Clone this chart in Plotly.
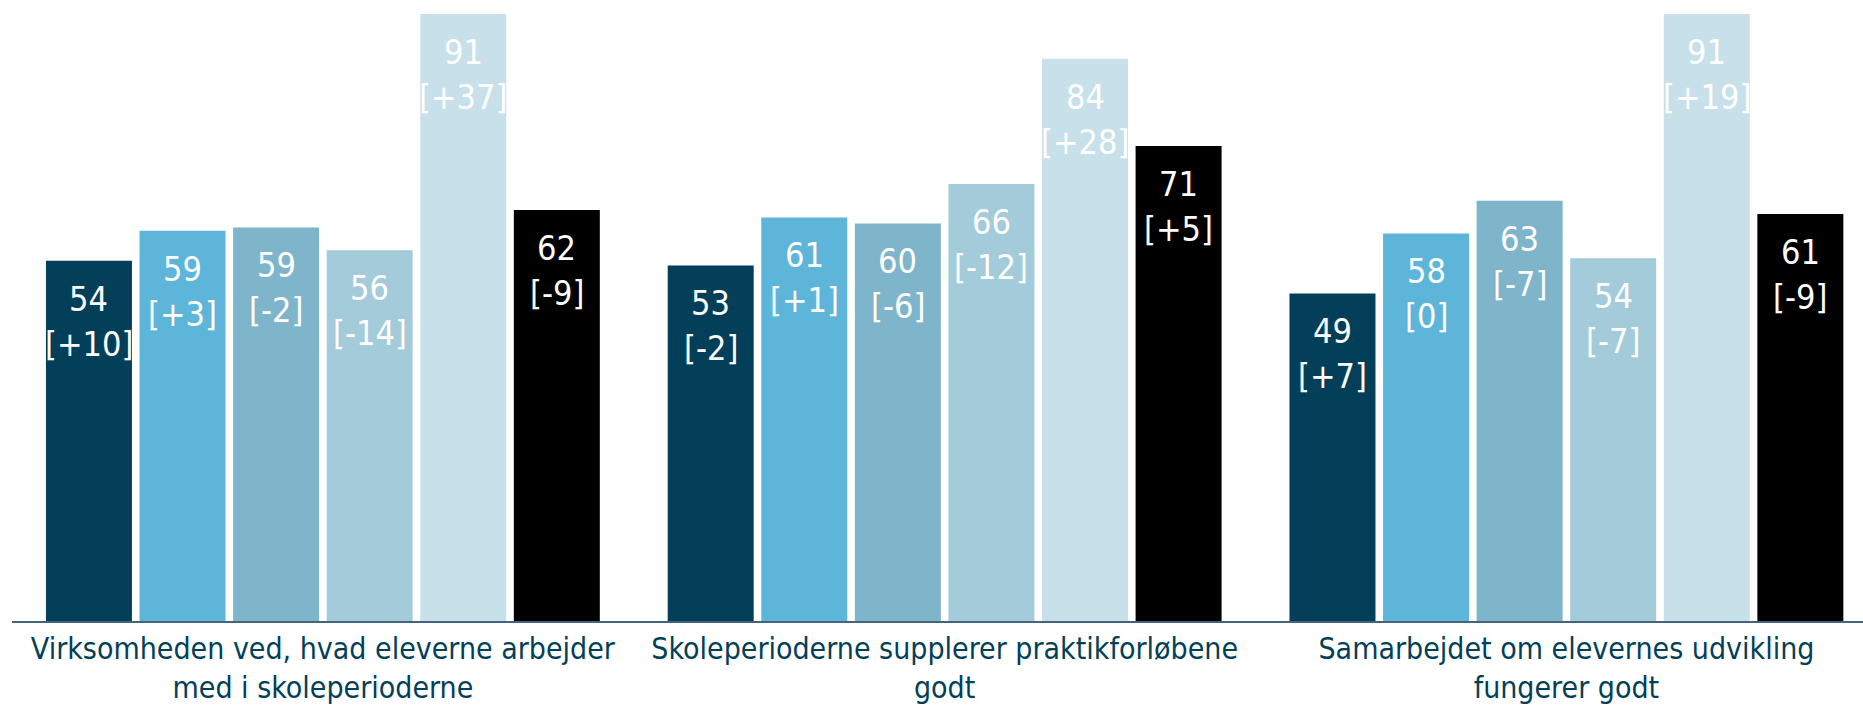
import plotly.graph_objects as go

categories = [
    "Virksomheden ved, hvad eleverne arbejder<br>med i skoleperioderne",
    "Skoleperioderne supplerer praktikforløbene<br>godt",
    "Samarbejdet om elevernes udvikling<br>fungerer godt",
]
series_names = ["Gruppe 1", "Gruppe 2", "Gruppe 3", "Gruppe 4", "Gruppe 5", "Gruppe 6"]
colors = ["#033f59", "#5eb5da", "#7fb5ca", "#a3cbda", "#c8e0ea", "#000000"]

# bar heights (per series, across the three categories)
values = [
    [54.0, 53.3, 49.1],
    [58.5, 60.5, 58.1],
    [59.0, 59.6, 63.0],
    [55.6, 65.5, 54.4],
    [91.0, 84.3, 91.0],
    [61.6, 71.2, 61.0],
]
value_labels = [
    ["54", "53", "49"],
    ["59", "61", "58"],
    ["59", "60", "63"],
    ["56", "66", "54"],
    ["91", "84", "91"],
    ["62", "71", "61"],
]
change_labels = [
    ["[+10]", "[-2]", "[+7]"],
    ["[+3]", "[+1]", "[0]"],
    ["[-2]", "[-6]", "[-7]"],
    ["[-14]", "[-12]", "[-7]"],
    ["[+37]", "[+28]", "[+19]"],
    ["[-9]", "[+5]", "[-9]"],
]

FONT = "DejaVu Sans Condensed, DejaVu Sans, sans-serif"
BARGAP = 0.097
BARGROUPGAP = 0.081
VAL_SIZE = 34
LAB_SIZE = 30

fig = go.Figure()
x_idx = list(range(len(categories)))
for i, name in enumerate(series_names):
    fig.add_trace(go.Bar(
        x=x_idx, y=values[i], name=name,
        marker=dict(color=colors[i], line=dict(width=0)),
        hoverinfo="skip",
    ))

n = len(series_names)
slot = (1 - BARGAP) / n
annotations = []
for i in range(n):
    off = -(1 - BARGAP) / 2 + slot * (i + 0.5)
    for j in x_idx:
        annotations.append(dict(
            x=j + off, y=values[i][j], xref="x", yref="y",
            text=value_labels[i][j], showarrow=False,
            yanchor="middle", yshift=-38,
            font=dict(family=FONT, size=VAL_SIZE, color="white"),
        ))
        annotations.append(dict(
            x=j + off, y=values[i][j], xref="x", yref="y",
            text=change_labels[i][j], showarrow=False,
            yanchor="middle", yshift=-83,
            font=dict(family=FONT, size=VAL_SIZE, color="white"),
        ))

fig.update_layout(
    width=1863, height=707,
    margin=dict(l=12, r=0, t=0, b=86),
    paper_bgcolor="white", plot_bgcolor="white",
    barmode="group", bargap=BARGAP, bargroupgap=BARGROUPGAP,
    showlegend=False,
    annotations=annotations,
    xaxis=dict(
        range=[-0.5, 2.477],
        tickmode="array", tickvals=x_idx, ticktext=categories,
        showgrid=False, zeroline=False, automargin=False,
        showline=True, linecolor="#44647d", linewidth=1.5,
        ticks="", ticklabelstandoff=0,
        tickfont=dict(family=FONT, size=LAB_SIZE, color="#033f59"),
    ),
    yaxis=dict(range=[0, 93.1], visible=False, showgrid=False, zeroline=False),
)

fig.write_html(
    "out.html",
    config={"displayModeBar": False},
    post_script="document.body.style.margin='0';document.body.style.overflow='hidden';",
)
